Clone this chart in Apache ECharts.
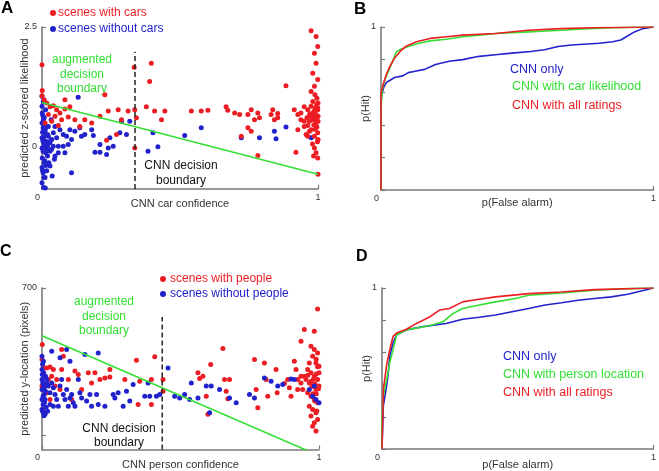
<!DOCTYPE html>
<html><head><meta charset="utf-8">
<script src="https://cdn.jsdelivr.net/npm/echarts@6/dist/echarts.min.js"></script>
<style>html,body{margin:0;padding:0;background:#fff}#c{width:659px;height:471px}</style>
</head><body><div id="c"></div>
<script>
// ---------- Panel A: scenes with / without cars ----------
const carsRed = [[0.0,1.71],[0.001,1.17],[0.0,1.06],[0.008,0.98],[0.017,0.91],[0.029,0.83],[0.041,0.85],[0.053,0.77],[0.065,0.70],[0.083,0.785],[0.101,0.83],[0.023,0.667],[0.047,0.632],[0.071,0.56],[0.035,0.528],[0.011,0.493],[0.059,0.44],[0.095,0.618],[0.119,0.56],[0.083,0.98],[0.137,0.42],[0.155,0.56],[0.18,0.49],[0.228,1.08],[0.21,0.63],[0.24,0.74],[0.276,0.77],[0.312,0.74],[0.27,0.25],[0.234,0.13],[0.288,0.56],[0.334,1.66],[0.396,1.74],[0.39,1.36],[0.336,0.77],[0.342,0.60],[0.336,-0.03],[0.378,0.83],[0.408,0.74],[0.445,0.74],[0.433,0.56],[0.541,0.74],[0.577,0.74],[0.601,0.76],[0.667,0.83],[0.673,0.76],[0.698,0.70],[0.716,0.67],[0.746,0.67],[0.758,0.77],[0.782,0.70],[0.788,0.60],[0.77,0.56],[0.836,0.77],[0.83,0.67],[0.842,0.56],[0.854,0.60],[0.884,1.27],[0.854,0.69],[0.722,0.215],[0.746,0.39],[0.758,0.32],[0.782,-0.19],[0.92,-0.12],[0.938,0.70],[0.95,0.42],[0.963,0.215],[0.914,0.77],[0.927,0.35],
[0.975,2.42],[0.993,2.30],[0.999,2.09],[0.987,1.95],[0.993,1.74],[0.981,1.53],[0.999,1.40],[0.987,1.26],[0.975,1.15],[0.996,1.01],[0.95,0.83],[0.963,0.77],[0.975,0.84],[0.987,0.74],[0.999,0.81],[1.0,0.63],[0.969,0.63],[0.981,0.56],[0.993,0.49],[0.95,0.53],[0.963,0.44],[0.975,0.35],[0.999,0.285],[0.987,0.215],[1.0,0.146],[0.957,0.25],[0.969,0.53],[0.987,-0.03],[0.993,-0.13],[0.984,-0.2],[0.999,-0.24],[0.981,0.70],[0.993,0.67],[1.0,0.53],[0.996,0.41],[0.969,0.32],[0.938,0.56],[0.927,0.67],[0.981,0.94],[1.0,0.91],[0.989,1.08],[0.999,0.77],[0.984,0.60],[0.99,0.65],[0.985,0.72],[0.995,0.58],[0.97,0.68],[0.98,0.62],[0.99,0.80],[0.96,0.60],[0.995,0.88],[0.985,0.45],[0.99,0.36],[0.998,0.1],[0.98,0.05],[1.0,-0.58]];
const carsBlue = [[0.0,1.05],[0.005,0.94],[0.0,0.84],[0.001,0.70],[0.008,0.60],[0.0,0.49],[0.004,0.39],[0.011,0.285],[0.0,0.18],[0.006,0.076],[0.0,-0.03],[0.013,-0.13],[0.001,-0.24],[0.008,-0.34],[0.0,-0.44],[0.004,-0.55],[0.011,-0.65],[0.0,-0.76],[0.006,-0.86],[0.017,0.42],[0.023,0.215],[0.029,0.076],[0.035,-0.06],[0.02,-0.2],[0.041,0.285],[0.047,0.42],[0.033,0.56],[0.053,0.18],[0.059,0.007],[0.037,-0.62],[0.029,-0.41],[0.065,0.35],[0.077,0.25],[0.089,0.215],[0.101,0.35],[0.107,0.146],[0.131,1.03],[0.119,0.32],[0.137,0.39],[0.143,0.215],[0.155,0.25],[0.18,0.35],[0.186,0.23],[0.21,0.04],[0.192,-0.12],[0.21,-0.12],[0.234,-0.17],[0.24,-0.03],[0.258,0.007],[0.246,0.18],[0.282,0.285],[0.288,0.53],[0.306,0.25],[0.318,0.53],[0.107,-0.55],[0.384,-0.1],[0.402,0.285],[0.42,-0.007],[0.517,0.23],[0.577,0.39],[0.722,0.18],[0.788,0.18],[0.842,0.32],[0.848,0.16],[0.884,0.41],[0.975,0.18],[0.077,0.007],[0.047,-0.2],[0.025,-0.34],[0.017,-0.51],[0.045,-0.27],[0.059,-0.13],[0.083,-0.13],[0.095,0.04],[0.035,0.146],[0.013,0.11],[0.02,0.007],[0.029,-0.1],[0.005,0.56],[0.013,0.77],[0.023,0.42],[0.041,0.007],[0.002,0.3],[0.006,0.2],[0.003,0.12],[0.008,0.0],[0.004,-0.1],[0.01,-0.3],[0.002,-0.5],[0.012,0.35],[0.015,0.05],[0.018,-0.05],[0.009,0.45],[0.003,0.65],[0.007,-0.65],[0.014,-0.4],[0.02,0.25],[0.025,0.1],[0.012,-0.87]];
const carsAugBoundary = [[0,0.92],[1,-0.58]];
const carsCnnBoundary = [[0.337,-0.89],[0.337,1.98]];
const carsYRange = [-0.89, 2.5];
const carsYTicks = [0, 2.5];

// ---------- Panel B: ROC for cars ----------
const rocCarCnn = [[0,0],[0,0.55],[0.005,0.6],[0.01,0.63],[0.02,0.66],[0.03,0.67],[0.05,0.69],[0.08,0.70],[0.1,0.72],[0.13,0.73],[0.16,0.74],[0.2,0.77],[0.25,0.79],[0.3,0.80],[0.36,0.82],[0.42,0.83],[0.48,0.84],[0.55,0.85],[0.6,0.86],[0.65,0.88],[0.7,0.89],[0.8,0.90],[0.85,0.91],[0.88,0.92],[0.9,0.94],[0.93,0.97],[0.96,0.99],[1,1]];
const rocCarLik = [[0,0],[0,0.5],[0.005,0.62],[0.015,0.68],[0.03,0.74],[0.045,0.8],[0.057,0.85],[0.075,0.865],[0.1,0.88],[0.14,0.9],[0.18,0.915],[0.24,0.925],[0.3,0.94],[0.36,0.95],[0.42,0.96],[0.54,0.97],[0.66,0.98],[0.76,0.99],[0.85,0.995],[1,1]];
const rocCarAll = [[0,0],[0,0.6],[0.01,0.66],[0.02,0.71],[0.03,0.75],[0.05,0.81],[0.07,0.85],[0.09,0.88],[0.13,0.91],[0.18,0.93],[0.24,0.94],[0.3,0.95],[0.42,0.96],[0.54,0.98],[0.66,0.99],[0.78,0.995],[1,1]];

// ---------- Panel C: scenes with / without people ----------
const peopleRed = [[0.001,470],[0.0,409],[0.005,375],[0.017,375],[0.029,379],[0.041,368],[0.011,341],[0.023,328],[0.035,341],[0.053,328],[0.0,301],[0.017,274],[0.047,301],[0.065,287],[0.005,246],[0.029,246],[0.001,206],[0.071,450],[0.077,422],[0.071,368],[0.119,362],[0.095,328],[0.131,348],[0.143,287],[0.107,246],[0.167,355],[0.191,355],[0.179,314],[0.209,328],[0.227,334],[0.245,338],[0.245,368],[0.299,328],[0.341,406],[0.353,321],[0.347,226],[0.395,328],[0.407,420],[0.395,226],[0.437,328],[0.437,280],[0.563,355],[0.569,332],[0.581,341],[0.593,260],[0.599,186],[0.609,389],[0.653,454],[0.659,328],[0.665,280],[0.677,328],[0.671,249],[0.767,409],[0.773,287],[0.803,395],[0.809,328],[0.779,213],[0.815,260],[0.845,368],[0.849,274],[0.875,311],[0.887,328],[0.893,294],[0.911,402],[0.917,368],[0.935,483],[0.947,531],[0.983,524],[0.995,615],[0.923,287],[0.935,314],[0.899,260],
[0.971,463],[0.983,450],[0.977,422],[0.995,436],[0.965,395],[0.989,395],[1.0,382],[0.959,368],[0.971,355],[0.983,341],[0.995,328],[0.953,328],[0.965,314],[0.977,301],[0.989,287],[1.0,301],[0.959,274],[0.971,260],[0.983,246],[0.995,233],[0.965,219],[0.977,206],[0.989,192],[0.971,179],[0.995,165],[0.983,152],[0.989,118],[0.977,138],[0.947,341],[0.935,341],[0.941,287],[0.923,328],[0.99,350],[0.985,310],[0.995,380],[0.98,330],[0.99,270],[0.975,300],[0.998,290],[0.985,240],[0.99,410],[0.97,320],[0.96,345],[1.0,355],[0.992,200],[0.978,270]];
const peopleBlue = [[0.0,422],[0.005,402],[0.0,368],[0.001,348],[0.0,328],[0.004,307],[0.0,287],[0.008,267],[0.0,246],[0.004,226],[0.0,206],[0.011,186],[0.017,328],[0.023,301],[0.029,274],[0.035,314],[0.041,294],[0.047,267],[0.053,246],[0.059,219],[0.065,301],[0.071,328],[0.077,267],[0.083,246],[0.089,287],[0.095,219],[0.101,253],[0.107,267],[0.113,233],[0.119,219],[0.131,328],[0.137,274],[0.035,443],[0.065,416],[0.089,450],[0.101,402],[0.155,429],[0.203,436],[0.143,253],[0.161,240],[0.173,267],[0.179,219],[0.197,267],[0.203,226],[0.227,219],[0.257,267],[0.263,253],[0.275,274],[0.293,219],[0.305,280],[0.317,240],[0.329,307],[0.371,260],[0.383,314],[0.389,260],[0.413,260],[0.425,267],[0.455,375],[0.479,260],[0.497,253],[0.515,267],[0.533,246],[0.539,314],[0.563,253],[0.593,301],[0.605,192],[0.611,301],[0.641,287],[0.677,253],[0.701,233],[0.749,267],[0.767,253],[0.803,334],[0.827,321],[0.851,301],[0.869,307],[0.899,330],[0.911,328],[0.977,260],[0.989,246],[1.0,233],[0.965,287],[0.983,301],[0.011,246],[0.029,226],[0.005,192],[0.041,219],[0.02,199],[0.002,390],[0.006,355],[0.003,315],[0.008,295],[0.012,280],[0.004,260],[0.009,235],[0.015,215],[0.002,200],[0.013,340],[0.018,310],[0.007,180]];
const peopleAugBoundary = [[0,506],[1,18]];
const peopleCnnBoundary = [[0.434,43],[0.434,582]];
const peopleYRange = [43, 700];
const peopleYTicks = [100, 700];
const peopleYLabels = [700];

// ---------- Panel D: ROC for people ----------
const rocPerCnn = [[0,0],[0.005,0.27],[0.017,0.39],[0.023,0.47],[0.029,0.58],[0.041,0.66],[0.054,0.71],[0.09,0.74],[0.151,0.76],[0.236,0.78],[0.297,0.806],[0.358,0.818],[0.418,0.832],[0.479,0.853],[0.54,0.873],[0.601,0.894],[0.662,0.908],[0.723,0.924],[0.783,0.935],[0.844,0.945],[0.905,0.961],[0.966,0.986],[1,1]];
const rocPerLoc = [[0,0],[0,0.17],[0.005,0.33],[0.017,0.43],[0.029,0.54],[0.041,0.62],[0.054,0.71],[0.09,0.74],[0.175,0.765],[0.224,0.79],[0.26,0.84],[0.297,0.873],[0.358,0.894],[0.418,0.914],[0.491,0.935],[0.54,0.955],[0.662,0.969],[0.783,0.986],[0.905,0.996],[1,1]];
const rocPerAll = [[0,0],[0.005,0.37],[0.017,0.52],[0.029,0.62],[0.041,0.70],[0.054,0.72],[0.09,0.744],[0.127,0.78],[0.175,0.82],[0.212,0.863],[0.248,0.873],[0.297,0.914],[0.333,0.924],[0.418,0.945],[0.54,0.965],[0.662,0.975],[0.783,0.99],[1,1]];
const rocYTicks = [0, 0.2, 0.4, 0.6, 0.8, 1];

// ---------- styling ----------
const RED = '#ec1e24', BLUE = '#2222cc', GREEN = '#33e033', AX = '#7a7a7a', TXT = '#333';
const FONT = '"Liberation Sans", Arial, sans-serif';

function xAx(gi, nameStr, gap) {
  return {
    gridIndex: gi, type: 'value', min: 0, max: 1,
    name: nameStr, nameLocation: 'middle', nameGap: gap, nameMoveOverlap: false,
    nameTextStyle: { color: TXT, fontSize: 11, fontFamily: FONT },
    axisLine: { show: true, onZero: false, lineStyle: { color: AX, width: 1.6 } },
    axisTick: { show: true, inside: true, length: 4, customValues: [0, 1], lineStyle: { color: AX, width: 1.2 } },
    axisLabel: { color: TXT, fontSize: 9, fontFamily: FONT, margin: 4, customValues: [0, 1],
      formatter: v => v === 0 ? '{z|0}' : String(v), rich: { z: { padding: [0, 9, 0, 0], fontSize: 9, color: TXT, fontFamily: FONT } } },
    splitLine: { show: false }
  };
}
function yAx(gi, nameStr, gap, mn, mx, ticks, labels) {
  return {
    gridIndex: gi, type: 'value', min: mn, max: mx,
    name: nameStr, nameLocation: 'middle', nameGap: gap, nameMoveOverlap: false,
    nameTextStyle: { color: TXT, fontSize: 11, fontFamily: FONT },
    axisLine: { show: true, onZero: false, lineStyle: { color: AX, width: 1.6 } },
    axisTick: { show: true, inside: true, length: 4, customValues: ticks, lineStyle: { color: AX, width: 1.2 } },
    axisLabel: { color: TXT, fontSize: 9, fontFamily: FONT, margin: 5, customValues: labels },
    splitLine: { show: false }
  };
}
function scat(xi, data, color) {
  return { type: 'scatter', xAxisIndex: xi, yAxisIndex: xi, data: data, symbolSize: 5,
    itemStyle: { color: color, opacity: 1 }, silent: true, z: 2 };
}
function ln(xi, data, color, width, dashed) {
  return { type: 'line', xAxisIndex: xi, yAxisIndex: xi, data: data, showSymbol: false, symbol: 'none',
    lineStyle: { color: color, width: width, type: dashed ? [5, 3] : 'solid' }, silent: true, clip: true, z: 3, animation: false };
}
function txt(x, y, s, color, size, align, bold) {
  return { type: 'text', x: x, y: y, style: { text: s, fill: color, fontSize: size, fontFamily: FONT,
    fontWeight: bold ? 'bold' : 'normal', textAlign: align || 'left', textVerticalAlign: 'middle', lineHeight: 14.5 } };
}
function dot(x, y, color) {
  return { type: 'circle', shape: { cx: x, cy: y, r: 3 }, style: { fill: color } };
}

const chart = echarts.init(document.getElementById('c'), null, { renderer: 'canvas' });
chart.setOption({
  animation: false,
  backgroundColor: '#fff',
  grid: [
    { left: 42, top: 27, width: 276, height: 162 },
    { left: 381, top: 27, width: 274, height: 163 },
    { left: 42, top: 288, width: 277, height: 162 },
    { left: 382, top: 288, width: 274, height: 163 }
  ],
  xAxis: [
    xAx(0, 'CNN car confidence', 9.5),
    xAx(1, 'p(False alarm)', 7.5),
    xAx(2, 'CNN person confidence', 9.5),
    xAx(3, 'p(False alarm)', 10)
  ],
  yAxis: [
    yAx(0, 'predicted z-scored likelihood', 11.5, carsYRange[0], carsYRange[1], carsYTicks, carsYTicks),
    yAx(1, 'p(Hit)', 9.5, 0, 1, rocYTicks, [1]),
    yAx(2, 'predicted y-location (pixels)', 11.5, peopleYRange[0], peopleYRange[1], peopleYTicks, peopleYLabels),
    yAx(3, 'p(Hit)', 10, 0, 1, rocYTicks, [1])
  ],
  series: [
    scat(0, carsBlue, BLUE), scat(0, carsRed, RED),
    ln(0, carsAugBoundary, GREEN, 1.6, false), ln(0, carsCnnBoundary, '#222', 1.5, true),
    ln(1, rocCarCnn, BLUE, 1.6, false), ln(1, rocCarLik, GREEN, 1.6, false), ln(1, rocCarAll, RED, 1.6, false),
    scat(2, peopleRed, RED), scat(2, peopleBlue, BLUE),
    ln(2, peopleAugBoundary, GREEN, 1.6, false), ln(2, peopleCnnBoundary, '#222', 1.5, true),
    ln(3, rocPerCnn, BLUE, 1.6, false), ln(3, rocPerLoc, GREEN, 1.6, false), ln(3, rocPerAll, RED, 1.6, false)
  ],
  graphic: [
    txt(1, 8, 'A', '#000', 17, 'left', true),
    txt(354, 9, 'B', '#000', 17, 'left', true),
    txt(0, 252, 'C', '#000', 16, 'left', true),
    txt(356, 257, 'D', '#000', 16, 'left', true),
    dot(53, 13, RED), txt(58, 13, 'scenes with cars', RED, 12),
    dot(53, 29, BLUE), txt(58, 29, 'scenes without cars', BLUE, 12),
    txt(82, 74.5, 'augmented\ndecision\nboundary', GREEN, 12, 'center'),
    txt(181, 173, 'CNN decision\nboundary', '#111', 12, 'center'),
    txt(510, 70, 'CNN only', BLUE, 12.5),
    txt(512, 87, 'CNN with car likelihood', GREEN, 12.5),
    txt(512, 106, 'CNN with all ratings', RED, 12.5),
    dot(163, 279, RED), txt(170, 279, 'scenes with people', RED, 12),
    dot(163, 294, BLUE), txt(170, 294, 'scenes without people', BLUE, 12),
    txt(104, 316.5, 'augmented\ndecision\nboundary', GREEN, 12, 'center'),
    txt(119, 435.5, 'CNN decision\nboundary', '#111', 12, 'center'),
    txt(503, 357, 'CNN only', BLUE, 12.5),
    txt(503, 375, 'CNN with person location', GREEN, 12.5),
    txt(503, 393, 'CNN with all ratings', RED, 12.5)
  ]
});
</script>
</body></html>
